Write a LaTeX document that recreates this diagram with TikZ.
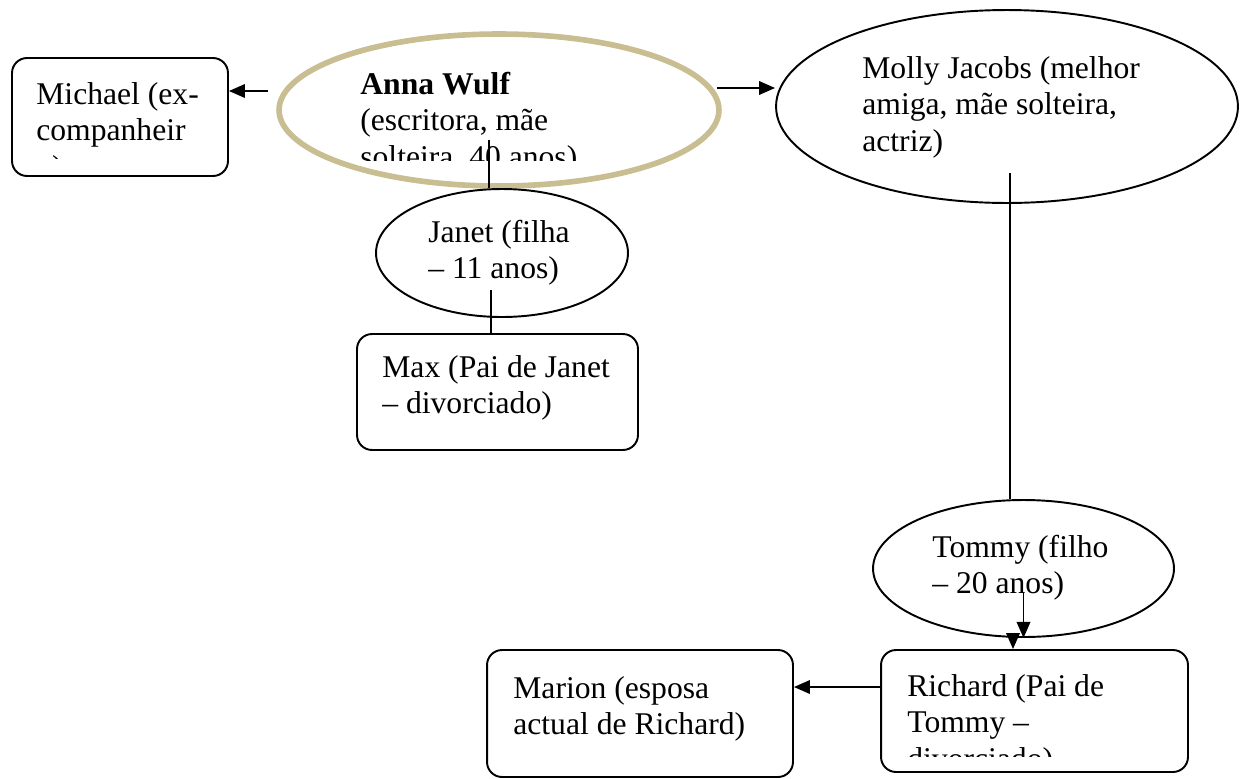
\documentclass[tikz,border=0pt]{standalone}
\usepackage{fontspec}
\setmainfont{Liberation Serif}
\usetikzlibrary{arrows.meta,shapes.geometric}
\definecolor{annatan}{RGB}{200,190,145}

\begin{document}
\begin{tikzpicture}[x=0.02cm, y=-0.02cm,
    card/.style={draw, line width=1.1pt, rounded corners=0.3cm, inner sep=0pt},
    oval/.style={draw, ellipse, line width=1.1pt, inner sep=0pt},
    txt/.style={anchor=base west, inner sep=0pt, font=\fontsize{18}{21}\selectfont},
    link/.style={line width=1.1pt},
    arr/.style={line width=1.1pt, -{Triangle[length=0.32cm, width=0.27cm]}}]
    \useasboundingbox (0,0) rectangle (1241,778);

    \node[oval, draw=annatan, line width=3.2pt, minimum width=8.8cm, minimum height=3.04cm] (anna) at (499,110) {};
    \node[oval, minimum width=9.24cm, minimum height=3.86cm] (molly) at (1007,106.5) {};
    \node[oval, minimum width=5.04cm, minimum height=2.56cm] (janet) at (502,253) {};
    \node[oval, minimum width=6.02cm, minimum height=2.74cm] (tommy) at (1023.5,568.5) {};

    \node[card, minimum width=4.32cm, minimum height=2.36cm] (michael) at (120,117) {};
    \node[card, minimum width=5.62cm, minimum height=2.32cm] (max) at (497.5,392) {};
    \node[card, minimum width=6.14cm, minimum height=2.44cm] (richard) at (1034.5,711) {};
    \node[card, minimum width=6.12cm, minimum height=2.54cm] (marion) at (640,713.5) {};

    \begin{scope}
        \clip (12,58) rectangle (228,158);
        \node[txt] (michaeltxt) at (36,104) {
            \begin{tabular}[t]{@{}l@{}}
                Michael (ex- \\
                companheir \\
                o)
            \end{tabular}
        };
    \end{scope}
    \begin{scope}
        \clip (279,34) rectangle (719,160);
        \node[txt] (annatxt) at (360,94) {
            \begin{tabular}[t]{@{}l@{}}
                \textbf{Anna Wulf} \\
                (escritora, mãe \\
                solteira, 40 anos)
            \end{tabular}
        };
    \end{scope}
    \node[txt] (mollytxt) at (862,78) {
        \begin{tabular}[t]{@{}l@{}}
            Molly Jacobs (melhor \\
            amiga, mãe solteira, \\
            actriz)
        \end{tabular}
    };
    \node[txt] (janettxt) at (428,242) {
        \begin{tabular}[t]{@{}l@{}}
            Janet (filha \\
            -- 11 anos)
        \end{tabular}
    };
    \node[txt] (maxtxt) at (382,377) {
        \begin{tabular}[t]{@{}l@{}}
            Max (Pai de Janet \\
            -- divorciado)
        \end{tabular}
    };
    \node[txt] (tommytxt) at (932,557) {
        \begin{tabular}[t]{@{}l@{}}
            Tommy (filho \\
            -- 20 anos)
        \end{tabular}
    };
    \begin{scope}
        \clip (881,650) rectangle (1188,756);
        \node[txt] (richardtxt) at (907,696) {
            \begin{tabular}[t]{@{}l@{}}
                Richard (Pai de \\
                Tommy -- \\
                divorciado)
            \end{tabular}
        };
    \end{scope}
    \node[txt] (mariontxt) at (513,698) {
        \begin{tabular}[t]{@{}l@{}}
            Marion (esposa \\
            actual de Richard)
        \end{tabular}
    };

    \coordinate (a2m) at (268,91);
    \coordinate (a2o) at (717,88);
    \coordinate (a2j) at (489,140);
    \coordinate (j2x) at (491,290);
    \coordinate (o2t) at (1010,173);
    \coordinate (t2t) at (1023.5,593);
    \coordinate (t2r) at (1013,636);
    \coordinate (r2n) at (881,687);

    \draw[arr] (a2m) -- (a2m -| michael.east);
    \draw[arr] (a2o) -- (a2o -| molly.west);
    \draw[link] (a2j) -- (a2j |- janet.north);
    \draw[link] (j2x) -- (j2x |- max.north);
    \draw[link] (o2t) -- (o2t |- tommy.north);
    \draw[arr] (t2t) -- (tommy.south);
    \draw[arr] (t2r) -- (t2r |- richard.north);
    \draw[arr] (r2n) -- (r2n -| marion.east);
\end{tikzpicture}
\end{document}
